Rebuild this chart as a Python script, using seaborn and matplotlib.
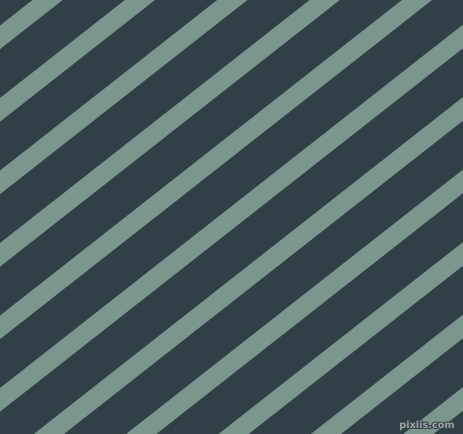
import seaborn as sns
import matplotlib.pyplot as plt
import matplotlib.patheffects as pe
import numpy as np

# Stripe intercepts: where each light stripe's upper edge meets the left edge (px)
stripe_starts = [25.5, 98, 170.5, 243, 315.5, 388, 460.5, 533, 605.5, 678, 750.5]
stripe_height = 23.7      # vertical thickness of a stripe
slope = 0.785             # rise per px going right (about 38 degrees)

bg_color = "#313f47"
stripe_color = "#7b978d"

sns.set_theme(style="white")

W, H = 463, 434
fig = plt.figure(figsize=(W / 100, H / 100), dpi=100)
ax = fig.add_axes([0, 0, 1, 1])
ax.set_facecolor(bg_color)

x = np.array([0, W])
for c in stripe_starts:
    ax.fill_between(x, c - slope * x, c + stripe_height - slope * x,
                    color=stripe_color, linewidth=0)

ax.set_xlim(0, W)
ax.set_ylim(H, 0)
ax.axis("off")
fig.patch.set_facecolor(bg_color)

# watermark
ax.text(455, 430, "pixlis.com", color="#9aa3a6", fontsize=7, fontweight="bold",
        ha="right", va="bottom",
        path_effects=[pe.withStroke(linewidth=1.5, foreground="#3a4348")])

fig.savefig("out.png", dpi=100, facecolor=bg_color)
